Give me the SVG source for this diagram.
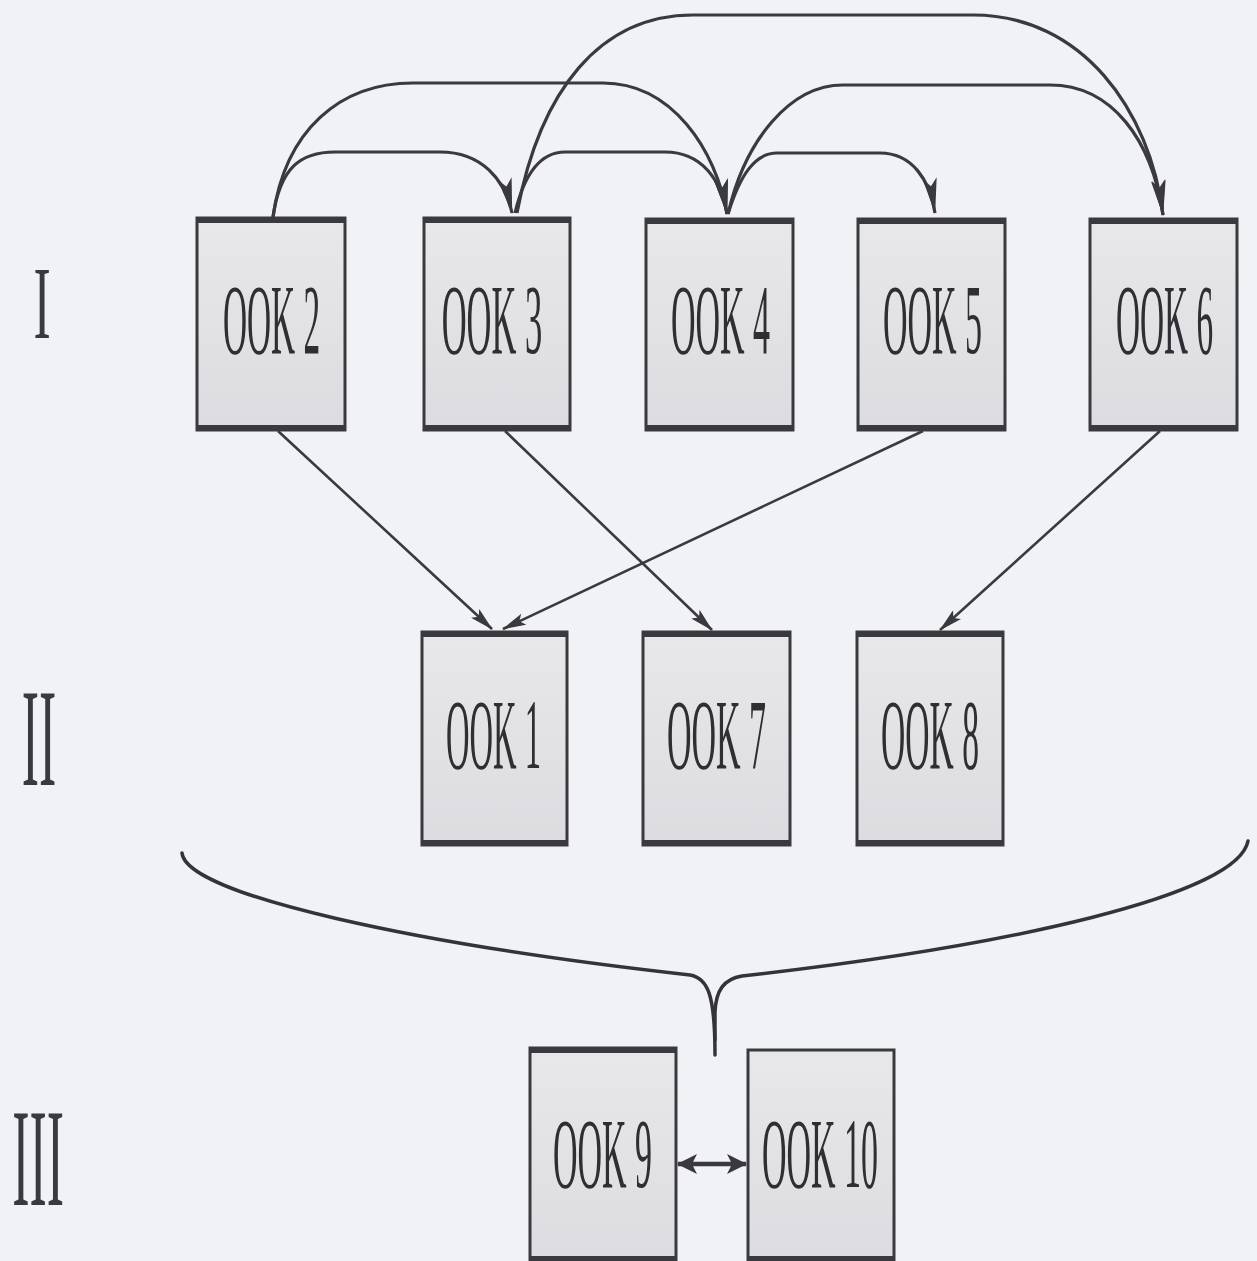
<svg xmlns="http://www.w3.org/2000/svg" width="1257" height="1261" viewBox="0 0 1257 1261">
<defs>
<linearGradient id="boxfill" x1="0" y1="0" x2="0" y2="1">
<stop offset="0" stop-color="#e8e8eb"/>
<stop offset="1" stop-color="#dcdce0"/>
</linearGradient>
<marker id="ah" viewBox="0 0 36 14" refX="35" refY="7" markerWidth="36" markerHeight="14" markerUnits="userSpaceOnUse" orient="auto">
<path d="M0,0 L36,7 L0,14 L8,7 z" fill="#3a3a3e"/>
</marker>
<marker id="as" viewBox="0 0 24 12" refX="23" refY="6" markerWidth="24" markerHeight="12" markerUnits="userSpaceOnUse" orient="auto">
<path d="M0,0 L24,6 L0,12 L5,6 z" fill="#3a3a3e"/>
</marker>
<marker id="ad" viewBox="0 0 20 20" refX="19" refY="10" markerWidth="20" markerHeight="20" markerUnits="userSpaceOnUse" orient="auto-start-reverse">
<path d="M0,0 L20,10 L0,20 L5,10 z" fill="#3a3a3e"/>
</marker>
</defs>
<style>
.box{fill:url(#boxfill);stroke:#3a3a3e;stroke-width:3}
.edge{stroke:#3a3a3e;stroke-width:6}
.lbl{font-family:"Liberation Serif","Times New Roman",serif;font-size:100px;fill:#2e2e33;text-anchor:middle}
.num{font-family:"Liberation Serif","Times New Roman",serif;fill:#3a3a3e;text-anchor:middle}
.arc{fill:none;stroke:#3a3a3e;stroke-width:3.2;marker-end:url(#ah)}
.ln{fill:none;stroke:#3a3a3e;stroke-width:2.6;marker-end:url(#as)}
.brace{fill:none;stroke:#333338;stroke-width:3.5;stroke-linecap:round}
</style>
<rect x="0" y="0" width="1257" height="1261" fill="#f1f2f6"/>

<g id="levels">
<text class="num" transform="translate(42,338) scale(0.5,1)" font-size="103">I</text>
<text class="num" transform="translate(39,785) scale(0.37,1)" font-size="140">II</text>
<text class="num" transform="translate(38,1205) scale(0.37,1)" font-size="140">III</text>
</g>

<g id="ook2"><rect class="box" x="197" y="218" width="148" height="212"/><line class="edge" x1="196" y1="220" x2="346" y2="220"/><line class="edge" x1="196" y1="428" x2="346" y2="428"/><text class="lbl" transform="translate(271.5,353) scale(0.333,1)">OOK 2</text></g>
<g id="ook3"><rect class="box" x="424" y="218" width="146" height="212"/><line class="edge" x1="423" y1="220" x2="571" y2="220"/><line class="edge" x1="423" y1="428" x2="571" y2="428"/><text class="lbl" transform="translate(492,353) scale(0.345,1)">OOK 3</text></g>
<g id="ook4"><rect class="box" x="646" y="219" width="147" height="211"/><line class="edge" x1="645" y1="221" x2="794" y2="221"/><line class="edge" x1="645" y1="428" x2="794" y2="428"/><text class="lbl" transform="translate(720.5,353) scale(0.34,1)">OOK 4</text></g>
<g id="ook5"><rect class="box" x="858" y="219" width="147" height="211"/><line class="edge" x1="857" y1="221" x2="1006" y2="221"/><line class="edge" x1="857" y1="428" x2="1006" y2="428"/><text class="lbl" transform="translate(932.5,353) scale(0.34,1)">OOK 5</text></g>
<g id="ook6"><rect class="box" x="1090" y="219" width="147" height="211"/><line class="edge" x1="1089" y1="221" x2="1238" y2="221"/><line class="edge" x1="1089" y1="428" x2="1238" y2="428"/><text class="lbl" transform="translate(1164.5,353) scale(0.333,1)">OOK 6</text></g>

<g id="ook1"><rect class="box" x="422" y="632" width="145" height="213"/><line class="edge" x1="421" y1="634" x2="568" y2="634"/><line class="edge" x1="421" y1="843" x2="568" y2="843"/><text class="lbl" transform="translate(493.5,768) scale(0.326,1)">OOK 1</text></g>
<g id="ook7"><rect class="box" x="643" y="632" width="147" height="213"/><line class="edge" x1="642" y1="634" x2="791" y2="634"/><line class="edge" x1="642" y1="843" x2="791" y2="843"/><text class="lbl" transform="translate(716.5,768) scale(0.34,1)">OOK 7</text></g>
<g id="ook8"><rect class="box" x="857" y="632" width="146" height="213"/><line class="edge" x1="856" y1="634" x2="1004" y2="634"/><line class="edge" x1="856" y1="843" x2="1004" y2="843"/><text class="lbl" transform="translate(930,768) scale(0.336,1)">OOK 8</text></g>

<g id="ook9"><rect class="box" x="530" y="1048" width="146" height="220"/><line class="edge" x1="529" y1="1050" x2="677" y2="1050"/><line class="edge" x1="529" y1="1259" x2="677" y2="1259"/><text class="lbl" transform="translate(602.5,1187) scale(0.34,1)">OOK 9</text></g>
<g id="ook10"><rect class="box" x="748" y="1050" width="146" height="218"/><line class="edge" x1="747" y1="1259" x2="895" y2="1259"/><text class="lbl" transform="translate(820,1187) scale(0.34,1)">OOK 10</text></g>

<g id="connectors">
<path class="arc" d="M273,217 C280,168 300,152 335,152 L440,152 C482,152 505,180 512,213"/>
<path class="arc" d="M273,217 C285,130 340,83 413,83 L603,83 C672,83 716,150 727,214"/>
<path class="arc" d="M515,213 C524,175 540,152 565,152 L665,152 C702,152 721,180 727,214"/>
<path class="arc" d="M517,213 C540,90 600,15 693,15 L973,15 C1082,15 1150,110 1163,215"/>
<path class="arc" d="M728,214 C740,175 755,153 777,153 L880,153 C912,153 930,180 935,213"/>
<path class="arc" d="M728,214 C745,140 790,85 843,85 L1050,85 C1112,85 1152,140 1163,215"/>
<line class="ln" x1="278" y1="431" x2="492" y2="629"/>
<line class="ln" x1="505" y1="431" x2="712" y2="630"/>
<line class="ln" x1="923" y1="431" x2="503" y2="629"/>
<line class="ln" x1="1160" y1="431" x2="940" y2="630"/>
<line x1="678" y1="1164" x2="746" y2="1164" stroke="#3a3a3e" stroke-width="4.5" marker-start="url(#ad)" marker-end="url(#ad)"/>
<path class="brace" d="M182,853 C186,895 420,945 690,975 C708,978 715,995 715,1055"/>
<path class="brace" d="M715,1040 L715,1012 C716,990 724,979 742,976 C1010,946 1238,895 1248,841"/>
</g>
</svg>
